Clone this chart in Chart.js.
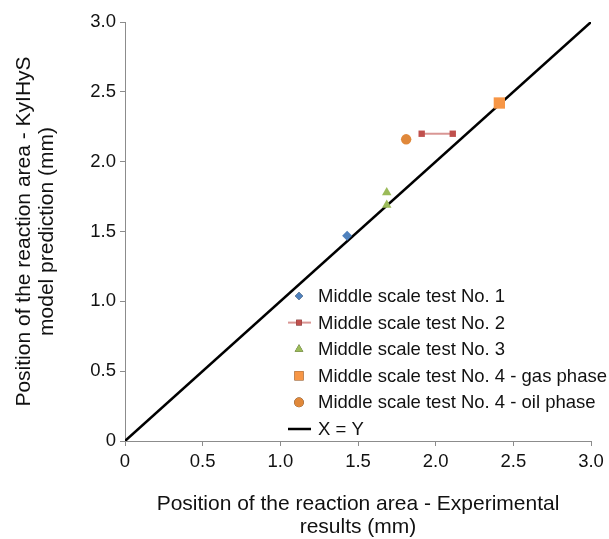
<!DOCTYPE html>
<html>
<head>
<meta charset="utf-8">
<script src="https://cdn.jsdelivr.net/npm/chart.js@4"></script>
<style>
  html, body { margin: 0; padding: 0; background: #fff; }
  #wrap { width: 609px; height: 539px; }
</style>
</head>
<body>
<div id="wrap"><canvas id="posChart" width="609" height="539"></canvas></div>
<script>
// Dados (mm)
const test1X = [1.43];
const test1Y = [1.47];
const test2X = [1.91, 2.11];
const test2Y = [2.20, 2.20];
const test3X = [1.685, 1.685];
const test3Y = [1.78, 1.69];
const gasX = [2.41];
const gasY = [2.42];
const oilX = [1.81];
const oilY = [2.16];
const refX = [0, 3];
const refY = [0, 3];

const seriesNames = [
  'Middle scale test No. 1',
  'Middle scale test No. 2',
  'Middle scale test No. 3',
  'Middle scale test No. 4 - gas phase',
  'Middle scale test No. 4 - oil phase',
  'X = Y'
];
const tickLabels = ['0', '0.5', '1.0', '1.5', '2.0', '2.5', '3.0'];

const FONT = "'Liberation Sans', Arial, Helvetica, sans-serif";

function toPoints(xs, ys) {
  return xs.map((x, i) => ({ x: x, y: ys[i] }));
}

// Legenda desenhada dentro da área do gráfico
const insideLegend = {
  id: 'insideLegend',
  afterDraw(chart) {
    const c = chart.ctx;
    const markX = 299, textX = 318, top = 296, step = 26.6;
    c.save();
    c.font = '18.5px ' + FONT;
    c.textBaseline = 'middle';
    c.fillStyle = '#111';
    seriesNames.forEach((name, i) => {
      const y = top + i * step;
      const ds = chart.data.datasets[i];
      if (ds.showLine) {
        c.strokeStyle = ds.borderColor;
        c.lineWidth = ds.borderWidth;
        c.beginPath();
        c.moveTo(288, y);
        c.lineTo(311, y);
        c.stroke();
      }
      if (ds.pointRadius > 0) {
        Chart.helpers.drawPoint(c, {
          pointStyle: ds.pointStyle,
          radius: ds.legendRadius,
          borderWidth: 0
        }, markX, y);
        c.fillStyle = ds.pointBackgroundColor;
        c.fill();
      }
      c.fillStyle = '#111';
      c.fillText(name, textX, y + 1);
    });
    c.restore();
  }
};

const ctx = document.getElementById('posChart').getContext('2d');
const axisColor = '#8c8c8c';

new Chart(ctx, {
  type: 'scatter',
  data: {
    datasets: [
      {
        label: seriesNames[0], data: toPoints(test1X, test1Y),
        pointStyle: 'rectRot', pointRadius: 5, legendRadius: 4,
        pointBackgroundColor: '#4F81BD', pointBorderWidth: 0,
        showLine: false
      },
      {
        label: seriesNames[1], data: toPoints(test2X, test2Y),
        pointStyle: 'rect', pointRadius: 4.5, legendRadius: 4,
        pointBackgroundColor: '#C0504D', pointBorderWidth: 0,
        showLine: true, borderColor: 'rgba(192,80,77,0.6)', borderWidth: 2
      },
      {
        label: seriesNames[2], data: toPoints(test3X, test3Y),
        pointStyle: 'triangle', pointRadius: 5.5, legendRadius: 5,
        pointBackgroundColor: '#9BBB59', pointBorderWidth: 0,
        showLine: false
      },
      {
        label: seriesNames[3], data: toPoints(gasX, gasY),
        pointStyle: 'rect', pointRadius: 8, legendRadius: 6.5,
        pointBackgroundColor: '#F79646', pointBorderWidth: 0,
        showLine: false
      },
      {
        label: seriesNames[4], data: toPoints(oilX, oilY),
        pointStyle: 'circle', pointRadius: 5.2, legendRadius: 4.8,
        pointBackgroundColor: '#E0883A', pointBorderWidth: 0,
        showLine: false
      },
      {
        label: seriesNames[5], data: toPoints(refX, refY),
        pointRadius: 0, showLine: true,
        borderColor: '#000', borderWidth: 2.5
      }
    ]
  },
  options: {
    responsive: false,
    animation: false,
    events: [],
    layout: { padding: { top: 22, right: 18, left: 0, bottom: 0 } },
    plugins: {
      legend: { display: false },
      tooltip: { enabled: false }
    },
    scales: {
      x: {
        type: 'linear', min: 0, max: 3,
        afterFit(scale) { scale.height = 98; },
        ticks: {
          stepSize: 0.5, padding: 5, color: '#111',
          font: { family: FONT, size: 18.5 },
          maxRotation: 0,
          callback: (v, i) => tickLabels[i]
        },
        grid: { drawOnChartArea: false, color: axisColor, tickLength: 5 },
        border: { color: axisColor, width: 1 },
        title: {
          display: true,
          text: ['Position of the reaction area - Experimental', 'results (mm)'],
          color: '#111',
          font: { family: FONT, size: 21, lineHeight: 1.12 },
          padding: { top: 0, bottom: 0 }
        }
      },
      y: {
        type: 'linear', min: 0, max: 3,
        afterFit(scale) { scale.width = 125; },
        ticks: {
          stepSize: 0.5, padding: 4, color: '#111',
          font: { family: FONT, size: 18.5 },
          callback: (v, i) => tickLabels[i]
        },
        grid: { drawOnChartArea: false, color: axisColor, tickLength: 5 },
        border: { color: axisColor, width: 1 },
        title: {
          display: true,
          text: ['Position of the reaction area - KyIHyS', 'model prediction (mm)'],
          color: '#111',
          font: { family: FONT, size: 21, lineHeight: 1.12 },
          padding: { top: 12, bottom: 0 }
        }
      }
    }
  },
  plugins: [insideLegend]
});
</script>
</body>
</html>
